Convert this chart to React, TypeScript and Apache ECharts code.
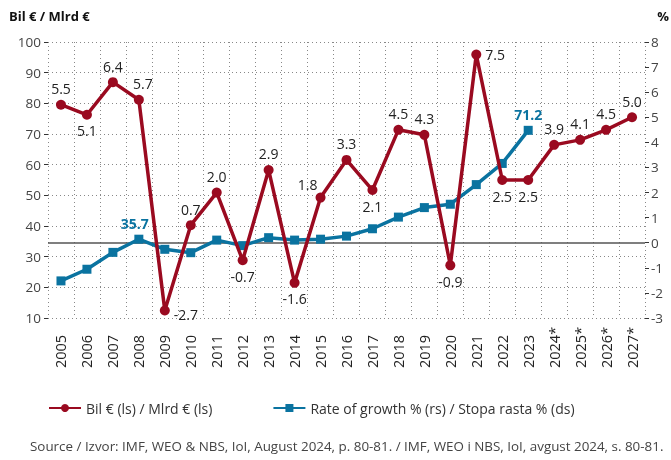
import React, { useEffect, useRef } from "react";
import * as echarts from "echarts";

const years = ["2005","2006","2007","2008","2009","2010","2011","2012","2013","2014","2015","2016","2017","2018","2019","2020","2021","2022","2023","2024*","2025*","2026*","2027*"];
const growth = [5.5,5.1,6.4,5.7,-2.7,0.7,2.0,-0.7,2.9,-1.6,1.8,3.3,2.1,4.5,4.3,-0.9,7.5,2.5,2.5,3.9,4.1,4.5,5.0];
const gdp: (number | null)[] = [22.1,25.9,31.4,35.7,32.4,31.3,35.4,33.6,36.2,35.4,35.7,36.7,39.1,42.9,46.0,47.1,53.5,60.4,71.2,null,null,null,null];
const growthLabelPos = ["top","bottom","top","top","right","top","top","bottom","top","bottom","top","top","bottom","top","top","bottom","right","bottom","bottom","top","top","top","top"];
const growthLabelOffset: [number, number][] = [[0,0],[0,0],[0,0],[4,0],[0,4],[0,0],[0,0],[0,0],[0,0],[0,0],[-13,3],[0,0],[0,0],[0,0],[0,0],[0,0],[0,0],[0,0],[0,0],[0,0],[0,0],[0,0],[0,0]];
const gdpLabeled = ["2008","2023"];

const RED = "#9a0a20";
const BLUE = "#0a73a0";
const FONT = "'Open Sans', 'Noto Sans', sans-serif";

export default function App() {
  const ref = useRef<HTMLDivElement>(null);
  useEffect(() => {
    const chart = echarts.init(ref.current!, null, { renderer: "svg" });
    chart.setOption({
      animation: false,
      textStyle: { fontFamily: FONT },
      graphic: [
        { type: "text", left: 9, top: 9, style: { text: "Bil € / Mlrd €", font: `bold 13px ${FONT}`, fill: "#111" } },
        { type: "text", right: 2, top: 9, style: { text: "%", font: `bold 13px ${FONT}`, fill: "#111" } },
        { type: "text", left: 30, top: 439, style: { text: "Source / Izvor: IMF, WEO & NBS, IoI, August 2024, p. 80-81. / IMF, WEO i NBS, IoI, avgust 2024, s. 80-81.", font: `13.4px ${FONT}`, fill: "#444" } },
      ],
      legend: {
        left: 43,
        top: 396,
        itemWidth: 32,
        itemHeight: 10,
        itemGap: 60,
        textStyle: { fontSize: 14, color: "#333", fontFamily: FONT },
        data: ["Bil € (ls) / Mlrd € (ls)", "Rate of growth % (rs) / Stopa rasta % (ds)"],
      },
      grid: { left: 48, right: 26, top: 42, bottom: 142 },
      xAxis: {
        type: "category",
        data: years,
        boundaryGap: true,
        axisLine: { show: false },
        axisTick: { show: false },
        axisLabel: { rotate: 90, fontSize: 14.5, color: "#222", margin: 50, interval: 0, align: "left" },
        splitLine: { show: true, interval: 0, lineStyle: { type: [1, 3], color: "#888", width: 1 } },
      },
      yAxis: [
        {
          type: "value", min: 10, max: 100, interval: 10,
          axisLine: { show: false },
          axisTick: { show: true, length: 4, lineStyle: { color: "#333" } },
          axisLabel: { fontSize: 13.5, color: "#444", margin: 7 },
          splitLine: { show: true, lineStyle: { type: [1, 3], color: "#888", width: 1 } },
        },
        {
          type: "value", min: -3, max: 8, interval: 1,
          axisLine: { show: false },
          axisTick: { show: true, length: 4, lineStyle: { color: "#333" } },
          axisLabel: { fontSize: 13.5, color: "#444", margin: 6 },
          splitLine: { show: false },
        },
      ],
      series: [
        {
          name: "Bil € (ls) / Mlrd € (ls)",
          type: "line",
          yAxisIndex: 1,
          data: growth.map((v, i) => ({ value: v, label: { position: growthLabelPos[i], offset: growthLabelOffset[i] } })),
          color: RED,
          lineStyle: { width: 3.5, color: RED },
          symbol: "circle",
          symbolSize: 10,
          itemStyle: { color: RED },
          z: 3,
          label: { show: true, fontSize: 14, color: "#222", distance: 4, formatter: (p: any) => p.value.toFixed(1) },
          markLine: {
            silent: true,
            symbol: "none",
            label: { show: false },
            lineStyle: { type: "solid", color: "#555", width: 1.5 },
            data: [{ yAxis: 0 }],
            z: 1,
          },
        },
        {
          name: "Rate of growth % (rs) / Stopa rasta % (ds)",
          type: "line",
          yAxisIndex: 0,
          data: gdp.map((v, i) => ({
            value: v,
            label: { show: gdpLabeled.includes(years[i]), offset: years[i] === "2008" ? [-4, 0] : [0, 0] },
          })),
          color: BLUE,
          lineStyle: { width: 3.5, color: BLUE },
          symbol: "rect",
          symbolSize: 9,
          itemStyle: { color: BLUE },
          z: 2,
          label: { show: false, position: "top", fontSize: 14, fontWeight: "bold", color: BLUE, distance: 4, formatter: (p: any) => p.value.toFixed(1) },
        },
      ],
    });
    return () => chart.dispose();
  }, []);
  return <div ref={ref} style={{ position: "fixed", left: 0, top: 0, width: 671, height: 460 }} />;
}
